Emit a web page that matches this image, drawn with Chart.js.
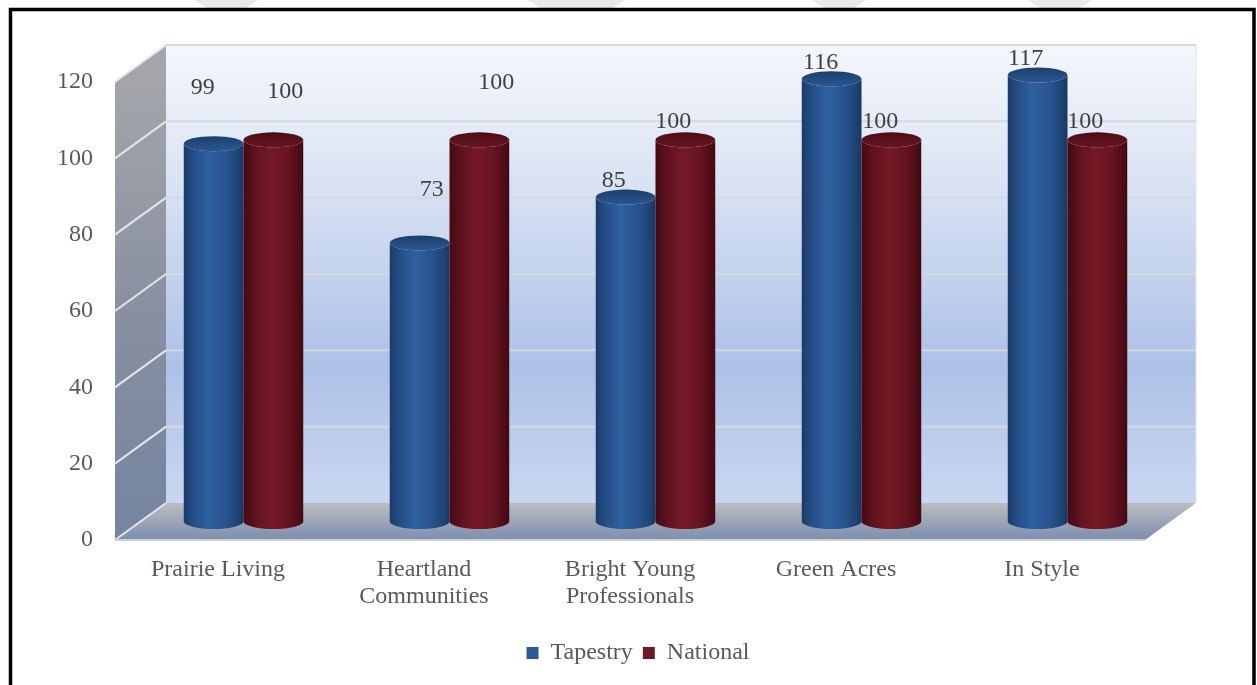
<!DOCTYPE html>
<html>
<head>
<meta charset="utf-8">
<script src="https://cdn.jsdelivr.net/npm/chart.js@4/dist/chart.umd.min.js"></script>
<style>
  html, body { margin: 0; padding: 0; background: #fff; }
  canvas { display: block; }
</style>
</head>
<body>
<canvas id="chart" width="1257" height="685"></canvas>
<script>
const categories = [['Prairie Living'], ['Heartland', 'Communities'], ['Bright Young', 'Professionals'], ['Green Acres'], ['In Style']];
const seriesNames = ['Tapestry', 'National'];
const tapestry = [99, 73, 85, 116, 117];
const national = [100, 100, 100, 100, 100];
const yTicks = [0, 20, 40, 60, 80, 100, 120];

const FONT = '"Liberation Serif", "Times New Roman", serif';
const DEPTH = { dx: 51, dy: -37 };

// label placement tweaks, Excel-style (dragged labels)
const labelNudge = [
  [[-11, -56], [12, -53], [-12, -16], [-11, -16], [-12, -16]],
  [[12, -48], [17, -57], [-12, -18], [-11, -18], [-12, -18]]
];

const shades = [
  {
    body: [[0, '#1b3b68'], [0.18, '#25508a'], [0.42, '#2e609f'], [0.7, '#28548f'], [0.9, '#1f4475'], [1, '#193660']],
    top: ['#1c406d', '#2a5690']
  },
  {
    body: [[0, '#420b14'], [0.18, '#5e111d'], [0.45, '#751a27'], [0.72, '#681421'], [0.9, '#530e18'], [1, '#3e0a12']],
    top: ['#4c0c16', '#661420']
  }
];

function cylinder(ctx, cx, top, bottom, rx, ry, s) {
  const g = ctx.createLinearGradient(cx - rx, 0, cx + rx, 0);
  s.body.forEach(([o, c]) => g.addColorStop(o, c));
  ctx.beginPath();
  ctx.moveTo(cx - rx, top);
  ctx.lineTo(cx - rx, bottom);
  ctx.ellipse(cx, bottom, rx, ry, 0, Math.PI, 0, true);
  ctx.lineTo(cx + rx, top);
  ctx.ellipse(cx, top, rx, ry, 0, 0, Math.PI, false);
  ctx.closePath();
  ctx.fillStyle = g;
  ctx.fill();
  const tg = ctx.createLinearGradient(0, top - ry, 0, top + ry);
  tg.addColorStop(0, s.top[0]);
  tg.addColorStop(1, s.top[1]);
  ctx.beginPath();
  ctx.ellipse(cx, top, rx, ry, 0, 0, Math.PI * 2);
  ctx.fillStyle = tg;
  ctx.fill();
}

const framePlugin = {
  id: 'frame',
  beforeDraw(chart) {
    const { ctx } = chart;
    ctx.save();
    // faint watermark pieces above the frame
    ctx.fillStyle = '#e9e9e9';
    [[195, 258], [528, 625], [812, 866], [1028, 1092]].forEach(([a, b]) => {
      ctx.beginPath();
      ctx.moveTo(a, 0); ctx.lineTo(b, 0); ctx.lineTo(b - 12, 8); ctx.lineTo(a + 12, 8);
      ctx.closePath(); ctx.fill();
    });
    ctx.strokeStyle = '#000';
    ctx.lineWidth = 3.5;
    ctx.beginPath();
    ctx.moveTo(10.5, 700); ctx.lineTo(10.5, 9.5); ctx.lineTo(1254, 9.5); ctx.lineTo(1254, 700);
    ctx.stroke();
    ctx.restore();
  }
};

const wallsPlugin = {
  id: 'walls',
  beforeDatasetsDraw(chart) {
    const { ctx, chartArea: a, scales: { y } } = chart;
    const { dx, dy } = DEPTH;
    const L = a.left, R = a.right, T = a.top, B = a.bottom;
    ctx.save();
    // back wall
    let g = ctx.createLinearGradient(0, T + dy, 0, B + dy);
    g.addColorStop(0, '#f4f7fc');
    g.addColorStop(0.3, '#dae3f4');
    g.addColorStop(0.7, '#adc1e7');
    g.addColorStop(1, '#c9d7f0');
    ctx.fillStyle = g;
    ctx.fillRect(L + dx, T + dy, R - L, B - T);
    // side wall
    g = ctx.createLinearGradient(0, T, 0, B);
    g.addColorStop(0, '#a3a5aa');
    g.addColorStop(0.5, '#8890a0');
    g.addColorStop(1, '#7584a0');
    ctx.fillStyle = g;
    ctx.beginPath();
    ctx.moveTo(L, T); ctx.lineTo(L + dx, T + dy); ctx.lineTo(L + dx, B + dy); ctx.lineTo(L, B);
    ctx.closePath(); ctx.fill();
    // floor
    g = ctx.createLinearGradient(0, B + dy, 0, B);
    g.addColorStop(0, '#bcbdc0');
    g.addColorStop(1, '#7c8dae');
    ctx.fillStyle = g;
    ctx.beginPath();
    ctx.moveTo(L, B); ctx.lineTo(L + dx, B + dy); ctx.lineTo(R + dx, B + dy); ctx.lineTo(R, B);
    ctx.closePath(); ctx.fill();
    // gridlines
    ctx.lineWidth = 2;
    yTicks.forEach(v => {
      const py = y.getPixelForValue(v);
      if (v > 0) {
        ctx.strokeStyle = '#d6d8db';
        ctx.beginPath();
        ctx.moveTo(L + dx, py + dy); ctx.lineTo(R + dx, py + dy);
        ctx.stroke();
      }
      ctx.strokeStyle = '#e4e6ea';
      ctx.beginPath();
      ctx.moveTo(L, py); ctx.lineTo(L + dx, py + dy);
      ctx.stroke();
    });
    ctx.strokeStyle = '#e2e4e8';
    ctx.lineWidth = 1;
    ctx.beginPath();
    ctx.moveTo(R + dx, T + dy); ctx.lineTo(R + dx, B + dy);
    ctx.stroke();
    ctx.strokeStyle = '#c8d0de';
    ctx.lineWidth = 2;
    ctx.beginPath();
    ctx.moveTo(L, B); ctx.lineTo(R, B);
    ctx.stroke();
    ctx.restore();
  },
  beforeDatasetDraw() {
    return false;
  },
  afterDatasetsDraw(chart) {
    const { ctx } = chart;
    const ox = DEPTH.dx / 2, oy = DEPTH.dy / 2;
    ctx.save();
    chart.data.datasets.forEach((ds, di) => {
      chart.getDatasetMeta(di).data.forEach(bar => {
        cylinder(ctx, bar.x + ox, bar.y + oy, bar.base + oy, bar.width / 2, 7.5, shades[di]);
      });
    });
    ctx.font = '24px ' + FONT;
    ctx.fillStyle = '#404040';
    ctx.textAlign = 'center';
    ctx.textBaseline = 'middle';
    chart.data.datasets.forEach((ds, di) => {
      chart.getDatasetMeta(di).data.forEach((bar, i) => {
        const [nx, ny] = labelNudge[di][i];
        ctx.fillText(String(ds.data[i]), bar.x + ox + nx, bar.y + oy + ny);
      });
    });
    ctx.restore();
  }
};

new Chart(document.getElementById('chart'), {
  type: 'bar',
  data: {
    labels: categories,
    datasets: [
      { label: seriesNames[0], data: tapestry, backgroundColor: '#2c5b9a' },
      { label: seriesNames[1], data: national, backgroundColor: '#6e1a26' }
    ]
  },
  options: {
    responsive: false,
    animation: false,
    layout: { padding: { left: 24, right: 5, top: 82, bottom: 10 } },
    datasets: { bar: { categoryPercentage: 0.58, barPercentage: 1 } },
    scales: {
      x: {
        grid: { display: false, drawTicks: false },
        border: { display: false },
        ticks: { color: '#595959', padding: 16, font: { family: FONT, size: 24, lineHeight: 1.12 } },
        afterFit: s => { s.height = 91; }
      },
      y: {
        min: 0, max: 120,
        grid: { display: false, drawTicks: false },
        border: { display: false },
        ticks: { stepSize: 20, color: '#595959', padding: 22, font: { family: FONT, size: 24 } },
        afterFit: s => { s.width = 91; }
      },
      spare: {
        type: 'linear',
        position: 'right',
        grid: { display: false, drawTicks: false },
        border: { display: false },
        ticks: { display: false },
        afterFit: s => { s.width = 107; }
      }
    },
    plugins: {
      legend: {
        position: 'bottom',
        labels: { boxWidth: 12, boxHeight: 12, padding: 10, color: '#595959', font: { family: FONT, size: 24 } }
      },
      tooltip: { enabled: false }
    }
  },
  plugins: [framePlugin, wallsPlugin]
});
</script>
</body>
</html>
